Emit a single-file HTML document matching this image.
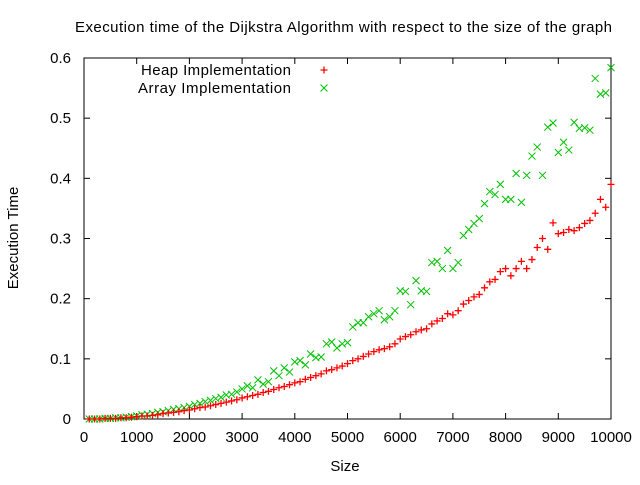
<!DOCTYPE html>
<html><head><meta charset="utf-8"><style>
body{margin:0;background:#fff}
svg text{font-family:"Liberation Sans",sans-serif;font-size:15px;fill:#000}
</style></head><body>
<svg id="chart" width="640" height="480" xmlns="http://www.w3.org/2000/svg">
<text x="75" y="32" textLength="537" lengthAdjust="spacing">Execution time of the Dijkstra Algorithm with respect to the size of the graph</text>
<text x="345" y="471" text-anchor="middle">Size</text>
<text x="18" y="238" text-anchor="middle" transform="rotate(-90 18 238)">Execution Time</text>
<rect x="84" y="58" width="527" height="361" fill="none" stroke="#000" stroke-width="1"/>
<g id="axes"></g>
<g id="marks"></g>
<g>
<text x="141" y="75" textLength="150" lengthAdjust="spacing">Heap Implementation</text>
<text x="138" y="93" textLength="153" lengthAdjust="spacing">Array Implementation</text>
</g>
</svg>
<script>
const sizes = [];
for (let i = 1; i <= 100; i++) sizes.push(i * 100);
const heapTimes = [
0,0,0,0.001,0.001,0.001,0.002,0.002,0.003,0.004,
0.005,0.005,0.006,0.007,0.009,0.010,0.011,0.012,0.014,0.015,
0.017,0.019,0.020,0.022,0.024,0.026,0.028,0.030,0.032,0.035,
0.037,0.039,0.041,0.044,0.046,0.049,0.052,0.054,0.057,0.060,
0.062,0.066,0.069,0.072,0.075,0.080,0.082,0.085,0.088,0.092,
0.097,0.100,0.104,0.108,0.112,0.115,0.117,0.120,0.125,0.133,
0.137,0.140,0.145,0.148,0.150,0.158,0.163,0.167,0.175,0.173,
0.180,0.191,0.197,0.203,0.207,0.218,0.228,0.232,0.245,0.250,
0.238,0.250,0.262,0.250,0.265,0.285,0.300,0.282,0.326,0.308,
0.310,0.315,0.313,0.318,0.325,0.330,0.342,0.365,0.352,0.390];
const arrayTimes = [
0,0,0,0.001,0.001,0.002,0.002,0.003,0.004,0.005,
0.007,0.008,0.009,0.011,0.012,0.014,0.016,0.017,0.019,0.021,
0.024,0.026,0.029,0.031,0.034,0.036,0.040,0.041,0.045,0.050,
0.055,0.052,0.065,0.058,0.062,0.080,0.072,0.085,0.078,0.095,
0.097,0.090,0.108,0.102,0.103,0.125,0.128,0.118,0.125,0.127,
0.153,0.160,0.160,0.170,0.175,0.180,0.165,0.170,0.180,0.213,
0.212,0.190,0.230,0.213,0.212,0.260,0.262,0.250,0.280,0.250,
0.260,0.305,0.315,0.325,0.333,0.358,0.378,0.373,0.390,0.365,
0.365,0.408,0.360,0.405,0.437,0.452,0.405,0.485,0.492,0.443,
0.460,0.447,0.493,0.483,0.484,0.480,0.566,0.540,0.542,0.584];
const xTicks = [0,1000,2000,3000,4000,5000,6000,7000,8000,9000,10000];
const yTicks = [0,0.1,0.2,0.3,0.4,0.5,0.6];
const yTickLabels = ["0","0.1","0.2","0.3","0.4","0.5","0.6"];

const NS = "http://www.w3.org/2000/svg";
const X0=84, X1=611, Y0=419, Y1=58;
const xs = v => X0 + (v-0)/(10000-0)*(X1-X0);
const ys = v => Y0 - (v-0)/(0.6-0)*(Y0-Y1);
function mk(tag, attrs, parent){const e=document.createElementNS(NS,tag);for(const k in attrs)e.setAttribute(k,attrs[k]);parent.appendChild(e);return e;}
const axes=document.getElementById('axes'), marks=document.getElementById('marks');
xTicks.forEach(t=>{
  const x=xs(t);
  const l1=mk('line',{x1:x,x2:x,y1:Y0,y2:Y0-6,stroke:'#000'},axes);
  
  
  mk('line',{x1:x,x2:x,y1:Y1,y2:Y1+6,stroke:'#000'},axes);
  const tx=mk('text',{x:x,y:442,'text-anchor':'middle'},axes);
  tx.textContent=t;
  
  
});
yTicks.forEach((t,i)=>{
  const y=ys(t);
  const l1=mk('line',{x1:X0,x2:X0+6,y1:y,y2:y,stroke:'#000'},axes);
  
  
  mk('line',{x1:X1,x2:X1-6,y1:y,y2:y,stroke:'#000'},axes);
  const tx=mk('text',{x:71,y:y+5,'text-anchor':'end'},axes);
  tx.textContent=yTickLabels[i];
  
  
});
function plus(x,y,name){
  const g=mk('path',{d:`M${x-3.5},${y}h7M${x},${y-3.5}v7`,stroke:'#ff0000','stroke-width':1.3,fill:'none'},marks);
  
  
}
function cross(x,y,name){
  const g=mk('path',{d:`M${x-3.5},${y-3.5}l7,7M${x-3.5},${y+3.5}l7,-7`,stroke:'#00c000','stroke-width':1,fill:'none'},marks);
  
  
}
sizes.forEach((s,i)=>{ cross(xs(s),ys(arrayTimes[i]),'array-point'); });
sizes.forEach((s,i)=>{ plus(xs(s),ys(heapTimes[i]),'heap-point'); });
plus(324,70,'legend-heap-marker');
cross(324,88,'legend-array-marker');
</script>
</body></html>
